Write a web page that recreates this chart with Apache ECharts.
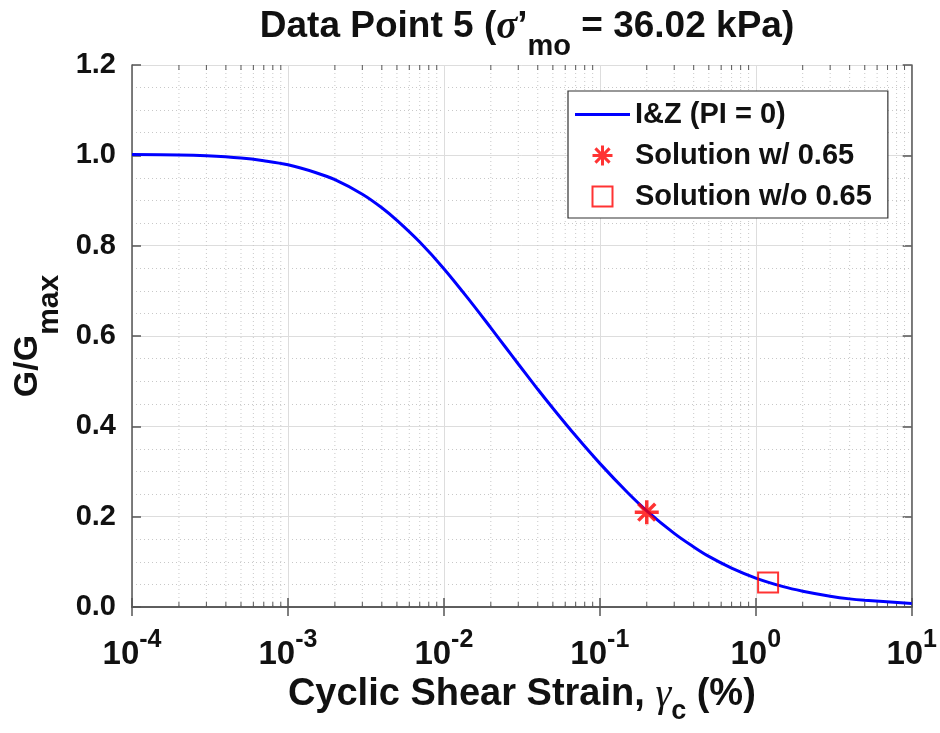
<!DOCTYPE html>
<html>
<head>
<meta charset="utf-8">
<script src="https://cdn.jsdelivr.net/npm/echarts@6/dist/echarts.min.js"></script>
<style>html,body{margin:0;padding:0;background:#fff}#c{width:940px;height:733px}</style>
</head>
<body>
<div id="c"></div>
<script>
// I&Z (PI = 0) curve: [strain %, G/Gmax]
const curveStrain = [0.0001, 0.0002, 0.0003, 0.0005, 0.0007, 0.001, 0.0015, 0.002, 0.003, 0.004, 0.005, 0.007, 0.01, 0.015, 0.02, 0.025, 0.03, 0.04, 0.05, 0.07, 0.1, 0.15, 0.2, 0.3, 0.4, 0.5, 0.7, 1, 1.5, 2, 3, 4, 5, 10];
const curveRatio  = [1.002, 1.001, 0.999, 0.994, 0.988, 0.979, 0.962, 0.946, 0.914, 0.884, 0.856, 0.808, 0.749, 0.674, 0.618, 0.574, 0.538, 0.482, 0.440, 0.379, 0.318, 0.254, 0.213, 0.163, 0.133, 0.112, 0.086, 0.064, 0.045, 0.035, 0.024, 0.018, 0.015, 0.008];
// solutions
const solWithStrain = [0.2];
const solWithRatio = [0.21];
const solWithoutStrain = [1.2];
const solWithoutRatio = [0.054];
// tick labels
const yTicks = [0, 0.2, 0.4, 0.6, 0.8, 1.0, 1.2];
const xDecades = [-4, -3, -2, -1, 0, 1];
const seriesNames = ['I&Z (PI = 0)', 'Solution w/ 0.65', 'Solution w/o 0.65'];

const xMinor = [];
for (let i = 0; i < xDecades.length - 1; i++) {
  for (let m = 2; m <= 9; m++) xMinor.push([m * Math.pow(10, xDecades[i]), 0]);
}

const FONT = 'Liberation Sans, Arial, sans-serif';
const SERIF = 'Liberation Serif, Times New Roman, serif';
const AX = '#555555';
const TXT = '#111111';
const starPath = 'path://M0,-10L0,10M-10,0L10,0M-7.07,-7.07L7.07,7.07M-7.07,7.07L7.07,-7.07';
const squarePath = 'path://M0,0L10,0L10,10L0,10Z';
const lineIconPath = 'path://M0,0L55,0L55,3L0,3Z';

const chart = echarts.init(document.getElementById('c'), null, {renderer: 'canvas'});

const xAxisBase = {
  type: 'log', logBase: 10,
  min: Math.pow(10, xDecades[0]), max: Math.pow(10, xDecades[xDecades.length - 1]),
  axisLine: {show: true, lineStyle: {color: AX, width: 1.5}},
  axisTick: {show: true, inside: true, length: 9, lineStyle: {color: AX, width: 1.5}},
  minorTick: {show: false},
  splitLine: {show: false}
};
const yAxisBase = {
  type: 'value', min: yTicks[0], max: yTicks[yTicks.length - 1], interval: 0.2,
  axisLine: {show: true, lineStyle: {color: AX, width: 1.5}},
  axisTick: {show: true, inside: true, length: 9, lineStyle: {color: AX, width: 1.5}},
  splitLine: {show: false}
};

chart.setOption({
  animation: false,
  backgroundColor: '#ffffff',
  title: {
    text: '{a|Data Point 5 (}{s|σ}{a|’}{sub|mo}{a| = 36.02 kPa)}',
    left: 522, top: 3, textAlign: 'center',
    textStyle: {
      rich: {
        a: {fontFamily: FONT, fontWeight: 'bold', fontSize: 37, color: TXT, verticalAlign: 'top', lineHeight: 42},
        s: {fontFamily: SERIF, fontStyle: 'italic', fontSize: 39, color: TXT, verticalAlign: 'top', lineHeight: 42},
        sub: {fontFamily: FONT, fontWeight: 'bold', fontSize: 29, color: TXT, verticalAlign: 'top', lineHeight: 32, padding: [24, 0, 0, 0]}
      }
    }
  },
  grid: {left: 132, top: 65, right: 28, bottom: 126, containLabel: false},
  legend: {
    data: [
      {name: seriesNames[0], icon: lineIconPath, itemStyle: {color: '#0000ff', borderWidth: 0}},
      {name: seriesNames[1], itemStyle: {color: '#ff0000', borderColor: '#ff0000', borderWidth: 3}},
      {name: seriesNames[2], icon: squarePath, itemStyle: {color: 'rgba(0,0,0,0)', borderColor: '#ff0000', borderWidth: 2}}
    ],
    orient: 'vertical', left: 568, top: 91,
    padding: [9, 16, 7, 7],
    itemWidth: 55, itemHeight: 20, itemGap: 12,
    backgroundColor: '#fff', borderColor: '#333', borderWidth: 1.2,
    textStyle: {fontFamily: FONT, fontWeight: 'bold', fontSize: 29, color: TXT}
  },
  xAxis: [
    Object.assign({}, xAxisBase, {
      position: 'bottom',
      splitLine: {show: true, lineStyle: {color: '#dddddd', width: 1}},
      name: '{a|Cyclic Shear Strain, }{g|γ}{sub|c}{a| (%)}',
      nameLocation: 'middle', nameGap: 66,
      nameTextStyle: {
        rich: {
          a: {fontFamily: FONT, fontWeight: 'bold', fontSize: 38, color: TXT, verticalAlign: 'top', lineHeight: 42},
          g: {fontFamily: SERIF, fontStyle: 'italic', fontSize: 40, color: TXT, verticalAlign: 'top', lineHeight: 42},
          sub: {fontFamily: FONT, fontWeight: 'bold', fontSize: 27, color: TXT, verticalAlign: 'top', lineHeight: 30, padding: [22, 0, 0, 0]}
        }
      },
      axisLabel: {
        margin: 21,
        formatter: function (v) { return '{b|10}{s|' + Math.round(Math.log10(v)) + '}'; },
        rich: {
          b: {fontFamily: FONT, fontWeight: 'bold', fontSize: 33, color: TXT, verticalAlign: 'top', lineHeight: 34, padding: [10, 0, 0, 0]},
          s: {fontFamily: FONT, fontWeight: 'bold', fontSize: 25, color: TXT, verticalAlign: 'top', lineHeight: 26}
        }
      }
    }),
    Object.assign({}, xAxisBase, {position: 'top', axisLabel: {show: false}})
  ],
  yAxis: [
    Object.assign({}, yAxisBase, {
      position: 'left',
      splitLine: {show: true, lineStyle: {color: '#dddddd', width: 1}},
      minorTick: {show: false, splitNumber: 4},
      minorSplitLine: {show: true, lineStyle: {color: '#c8c8c8', width: 1, type: [1, 3]}},
      name: '{a|G/G}{sub|max}',
      nameLocation: 'middle', nameGap: 78, nameRotate: 90,
      nameTextStyle: {
        rich: {
          a: {fontFamily: FONT, fontWeight: 'bold', fontSize: 34, color: TXT, verticalAlign: 'top', lineHeight: 38},
          sub: {fontFamily: FONT, fontWeight: 'bold', fontSize: 30, color: TXT, verticalAlign: 'top', lineHeight: 30, padding: [24, 0, 0, 0]}
        }
      },
      axisLabel: {
        margin: 16,
        fontFamily: FONT, fontWeight: 'bold', fontSize: 29, color: TXT,
        formatter: function (v) { return v.toFixed(1); }
      }
    }),
    Object.assign({}, yAxisBase, {position: 'right', axisLabel: {show: false}})
  ],
  series: [
    {
      name: 'xminor', type: 'custom', silent: true, z: 1,
      xAxisIndex: 0, yAxisIndex: 0,
      data: xMinor, encode: {x: 0, y: 1},
      renderItem: function (params, api) {
        const x = api.coord([api.value(0), 0])[0];
        const cs = params.coordSys;
        return {
          type: 'group',
          children: [
            {type: 'line', shape: {x1: x, y1: cs.y, x2: x, y2: cs.y + cs.height}, style: {stroke: '#c8c8c8', lineWidth: 1, lineDash: [1, 3]}},
            {type: 'line', shape: {x1: x, y1: cs.y + cs.height, x2: x, y2: cs.y + cs.height - 5}, style: {stroke: AX, lineWidth: 1}},
            {type: 'line', shape: {x1: x, y1: cs.y, x2: x, y2: cs.y + 5}, style: {stroke: AX, lineWidth: 1}}
          ]
        };
      }
    },
    {
      name: seriesNames[0], type: 'line', z: 3,
      data: curveStrain.map((s, i) => [s, curveRatio[i]]),
      smooth: 0.35, showSymbol: false, symbol: 'none',
      lineStyle: {color: '#0000ff', width: 3},
      itemStyle: {color: '#0000ff'}
    },
    {
      name: seriesNames[1], type: 'scatter', z: 5,
      data: solWithStrain.map((s, i) => [s, solWithRatio[i]]),
      symbol: starPath, symbolSize: 24,
      itemStyle: {color: '#ff0000', borderColor: '#ff0000', borderWidth: 3.5}
    },
    {
      name: seriesNames[2], type: 'scatter', z: 5,
      data: solWithoutStrain.map((s, i) => [s, solWithoutRatio[i]]),
      symbol: 'rect', symbolSize: 20,
      itemStyle: {color: 'rgba(0,0,0,0)', borderColor: '#ff0000', borderWidth: 2}
    }
  ]
});
</script>
</body>
</html>
